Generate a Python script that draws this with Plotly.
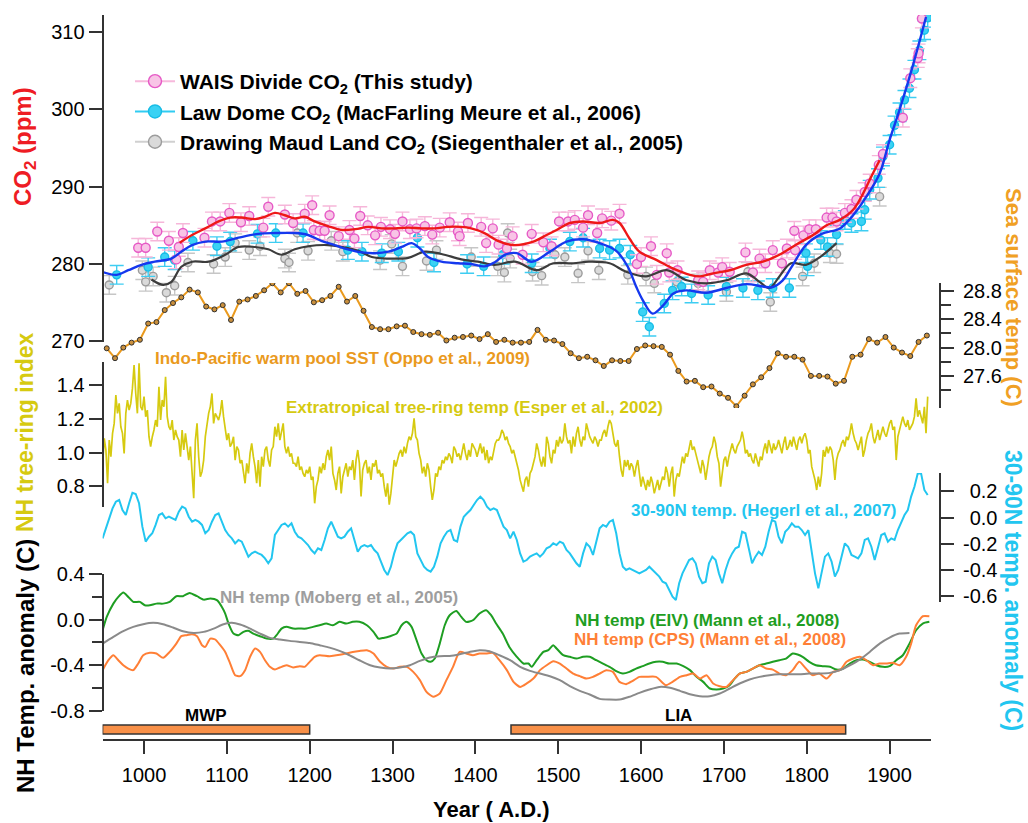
import plotly.graph_objects as go

W, H = 1028, 823
FONT = "Liberation Sans, Arial, sans-serif"

# ---------------- CO2 records (ppm) ----------------
CO2_ERR = 1.2

WAIS_YEAR = [993, 1002, 1016, 1030, 1039, 1042, 1047, 1073, 1082, 1092, 1103, 1117, 1127, 1144, 1150,
             1170, 1180, 1194, 1203, 1205, 1212, 1218, 1224, 1235, 1248, 1254, 1261, 1270, 1279, 1286,
             1297, 1303, 1312, 1321, 1329, 1339, 1348, 1357, 1369, 1379, 1381, 1391, 1407, 1413, 1421,
             1428, 1438, 1445, 1457, 1468, 1482, 1492, 1501, 1512, 1520, 1530, 1536, 1547, 1553, 1564,
             1574, 1595, 1600, 1612, 1619, 1631, 1634, 1644, 1669, 1675, 1683, 1693, 1698, 1707, 1726,
             1735, 1743, 1750, 1759, 1770, 1776, 1785, 1786, 1796, 1803, 1811, 1824, 1831, 1836, 1846,
             1854, 1860, 1870, 1876, 1887, 1892, 1916, 1925, 1934, 1935, 1939]
WAIS_CO2 = [282.1, 282.1, 284.2, 283.0, 280.6, 282.2, 284.0, 283.4, 285.5, 285.5, 286.6, 285.4, 286.2, 284.7, 287.4,
            286.4, 285.3, 286.5, 287.6, 284.4, 284.3, 284.3, 286.3, 283.6, 284.4, 283.3, 286.2, 285.0, 283.7, 284.8,
            284.5, 283.9, 285.5, 284.5, 284.6, 284.9, 283.8, 284.7, 285.4, 284.2, 283.6, 285.3, 284.8, 282.7, 284.6,
            282.5, 282.0, 283.6, 281.2, 283.9, 282.8, 282.3, 285.5, 285.5, 285.7, 284.7, 286.3, 284.0, 285.9, 285.6,
            286.5, 280.0, 280.9, 282.3, 278.6, 281.4, 278.9, 279.2, 277.9, 277.7, 279.2, 278.9, 279.6, 279.0, 281.5,
            278.9, 280.7, 280.1, 281.8, 280.1, 282.0, 284.3, 281.8, 283.7, 284.5, 284.5, 286.0, 286.0, 285.5, 286.6,
            287.1, 288.3, 289.3, 290.4, 292.8, 294.2, 298.9, 304.0, 306.6, 307.2, 311.7]

LAW_YEAR = [967, 1005, 1025, 1037, 1059, 1088, 1104, 1137, 1159, 1192, 1246, 1263, 1287, 1307, 1330,
            1350, 1390, 1410, 1433, 1468, 1490, 1514, 1530, 1550, 1562, 1574, 1587, 1602, 1610, 1628,
            1638, 1649, 1661, 1681, 1703, 1723, 1741, 1759, 1779, 1799, 1801, 1817, 1825, 1836, 1846,
            1854, 1866, 1870, 1876, 1886, 1892, 1900, 1906, 1912, 1918, 1924, 1930, 1936, 1942, 1946]
LAW_CO2 = [278.6, 279.6, 280.9, 280.5, 283.0, 282.3, 282.9, 283.9, 284.0, 284.0, 281.8, 281.6, 281.4, 281.6, 283.4,
           280.2, 280.0, 279.7, 281.2, 280.1, 282.0, 282.9, 283.4, 282.0, 281.8, 282.0, 281.2, 273.8, 271.9, 274.9,
           276.6, 277.1, 276.2, 276.0, 277.1, 276.9, 276.6, 276.9, 276.9, 281.4, 279.7, 283.1, 282.2, 283.8, 285.7,
           285.3, 285.5, 287.0, 289.6, 291.1, 293.9, 295.4, 297.9, 299.6, 301.2, 302.7, 305.1, 307.6, 310.2, 311.8]

DML_YEAR = [958, 998, 1002, 1011, 1027, 1037, 1053, 1084, 1098, 1110, 1127, 1140, 1170, 1175, 1185,
            1198, 1226, 1240, 1285, 1299, 1312, 1341, 1353, 1395, 1427, 1435, 1439, 1442, 1469, 1480,
            1496, 1508, 1524, 1536, 1549, 1584, 1606, 1616, 1643, 1669, 1703, 1729, 1756, 1795, 1809,
            1828, 1836, 1888]
DML_CO2 = [277.3, 279.2, 277.7, 278.4, 276.3, 277.2, 280.2, 280.0, 280.9, 282.7, 281.8, 282.3, 280.7, 280.2, 284.0,
           281.7, 283.0, 281.6, 280.5, 282.6, 279.7, 280.4, 281.8, 280.9, 279.7, 278.9, 284.0, 280.7, 279.0, 278.5,
           281.2, 280.9, 278.8, 281.7, 279.2, 278.6, 278.4, 277.5, 277.7, 277.5, 276.4, 279.0, 275.1, 278.4, 280.1,
           281.4, 281.3, 288.7]

# smoothed curves through each CO2 record
WAIS_FIT_YEAR = [1043, 1058, 1074, 1090, 1104, 1118, 1134, 1146, 1158, 1170, 1182, 1194, 1206, 1222, 1239,
                 1255, 1271, 1287, 1303, 1319, 1335, 1351, 1367, 1383, 1395, 1411, 1427, 1446, 1470, 1486,
                 1498, 1514, 1530, 1550, 1566, 1574, 1586, 1598, 1619, 1639, 1659, 1671, 1687, 1707, 1727,
                 1747, 1767, 1787, 1807, 1824, 1840, 1856, 1868, 1878, 1888]
WAIS_FIT_CO2 = [282.75, 283.75, 284.6, 285.5, 286.0, 286.0, 285.8, 286.1, 286.6, 286.3, 285.9, 286.1, 285.5, 284.9, 284.4,
                284.5, 284.8, 284.6, 284.6, 284.7, 284.6, 284.6, 284.8, 284.8, 284.6, 284.0, 283.0, 282.45, 282.9, 283.75,
                284.4, 285.3, 285.5, 285.3, 285.7, 285.3, 283.3, 281.6, 280.5, 279.4, 278.6, 278.4, 278.8, 279.2, 279.9,
                280.3, 281.2, 282.5, 283.7, 285.0, 285.7, 287.0, 289.1, 291.3, 293.4]

LAW_FIT_YEAR = [949, 967, 981, 997, 1013, 1033, 1045, 1058, 1074, 1094, 1114, 1138, 1158, 1182, 1198,
                1214, 1230, 1246, 1263, 1279, 1295, 1311, 1323, 1333, 1343, 1359, 1379, 1395, 1411, 1423,
                1436, 1450, 1468, 1490, 1510, 1530, 1550, 1570, 1584, 1594, 1602, 1614, 1627, 1639, 1654,
                1679, 1703, 1727, 1747, 1758, 1771, 1781, 1799, 1818, 1840, 1856, 1872, 1888, 1900, 1912,
                1928, 1944]
LAW_FIT_CO2 = [279.0, 278.6, 279.2, 279.9, 280.3, 280.7, 281.6, 282.45, 282.9, 282.9, 283.4, 283.9, 284.0, 284.0, 283.75,
               283.0, 282.45, 281.9, 281.5, 281.4, 281.6, 282.2, 282.7, 282.0, 280.9, 280.3, 280.1, 280.0, 279.7, 280.2,
               281.2, 281.4, 280.3, 281.6, 282.9, 283.2, 282.7, 281.7, 279.65, 277.1, 275.35, 273.6, 274.7, 276.2, 276.6,
               276.3, 276.9, 277.4, 277.1, 277.0, 277.9, 279.5, 282.45, 283.9, 284.6, 286.3, 288.7, 291.7, 296.0, 299.9,
               305.6, 311.9]

DML_FIT_YEAR = [1009, 1023, 1033, 1045, 1058, 1078, 1098, 1114, 1134, 1150, 1166, 1182, 1198, 1222, 1239,
                1259, 1275, 1295, 1319, 1339, 1359, 1383, 1403, 1423, 1448, 1474, 1494, 1518, 1537, 1562,
                1582, 1606, 1631, 1655, 1679, 1703, 1727, 1743, 1755, 1767, 1781, 1799, 1816, 1836]
DML_FIT_CO2 = [278.0, 277.3, 277.7, 279.65, 280.3, 280.3, 281.2, 282.2, 282.2, 281.9, 281.2, 281.9, 282.3, 282.45, 282.2,
               281.7, 280.9, 280.7, 280.8, 281.6, 281.3, 280.6, 280.3, 279.9, 280.3, 279.2, 280.1, 280.1, 280.3, 280.1,
               279.0, 278.4, 279.2, 277.9, 277.5, 277.9, 278.8, 277.7, 276.9, 278.4, 280.1, 279.9, 280.9, 282.7]

# ---------------- Indo-Pacific warm pool SST (C), decadal ----------------
SST_YEAR = list(range(955, 1955, 10))
SST = [27.99, 27.85, 28.00, 28.07, 28.11, 28.34, 28.36, 28.53, 28.63, 28.71,
       28.82, 28.78, 28.58, 28.54, 28.60, 28.39, 28.65, 28.68, 28.73, 28.81,
       28.91, 28.78, 28.91, 28.76, 28.80, 28.64, 28.67, 28.73, 28.86, 28.65,
       28.73, 28.52, 28.29, 28.26, 28.26, 28.30, 28.31, 28.22, 28.19, 28.18,
       28.21, 28.10, 28.14, 28.15, 28.17, 28.12, 28.19, 28.08, 28.11, 28.07,
       28.07, 28.08, 28.25, 28.11, 28.10, 28.05, 27.92, 27.85, 27.87, 27.82,
       27.74, 27.82, 27.81, 27.81, 27.98, 28.03, 28.02, 28.01, 27.90, 27.67,
       27.52, 27.53, 27.44, 27.45, 27.35, 27.29, 27.17, 27.32, 27.48, 27.58,
       27.71, 27.92, 27.87, 27.87, 27.83, 27.60, 27.60, 27.59, 27.49, 27.53,
       27.87, 27.90, 28.12, 28.07, 28.15, 28.00, 27.93, 27.88, 28.08, 28.17]

# ---------------- Extratropical tree-ring index, biennial samples ----------------
TREE_START_A, TREE_START_B, TREE_STEP = 950, 1446, 2
TREE_A = [0.926, 1.084, 1.015, 0.817, 1.074, 0.975, 1.114, 1.173, 1.342, 1.233, 1.292, 1.153, 1.114, 0.995, 1.233,
          1.312, 1.252, 1.292, 1.381, 1.520, 1.351, 1.233, 1.530, 1.272, 1.252, 1.332, 1.213, 1.252, 1.094, 1.035,
          1.094, 1.134, 1.193, 1.153, 1.391, 1.193, 1.312, 1.272, 1.450, 1.213, 1.153, 1.134, 1.193, 1.074, 1.134,
          1.094, 1.074, 0.975, 1.134, 1.015, 1.114, 1.015, 0.955, 1.035, 0.876, 0.728, 1.074, 1.173, 0.975, 0.856,
          0.886, 0.955, 1.094, 1.173, 1.233, 1.272, 1.351, 1.173, 1.233, 1.213, 1.193, 1.233, 1.312, 1.213, 1.134,
          1.074, 1.114, 1.035, 1.054, 1.094, 0.955, 1.035, 1.015, 0.936, 0.955, 0.876, 0.817, 0.936, 0.876, 0.995,
          1.054, 0.975, 0.916, 0.817, 0.955, 0.797, 0.975, 0.916, 1.015, 1.035, 0.955, 0.916, 1.015, 1.035, 1.153,
          1.094, 1.173, 1.074, 1.114, 1.173, 1.035, 0.995, 1.035, 0.975, 0.995, 0.936, 0.936, 0.916, 0.975, 0.896,
          0.916, 0.876, 0.856, 0.896, 0.876, 0.916, 0.837, 0.856, 0.698, 0.797, 0.837, 0.916, 0.876, 0.936, 0.896,
          0.975, 1.015, 0.955, 1.035, 0.876, 0.837, 0.777, 0.876, 0.916, 0.757, 0.856, 0.896, 0.936, 0.856, 0.916,
          0.896, 0.955, 0.837, 0.955, 1.015, 0.936, 0.738, 0.896, 0.936, 0.955, 0.876, 0.916, 0.837, 0.936, 0.916,
          0.955, 0.876, 0.896, 0.856, 0.876, 0.797, 0.738, 0.817, 0.690, 0.757, 0.856, 0.955, 0.916, 0.955, 0.995,
          1.015, 0.975, 1.035, 0.995, 1.054, 1.094, 1.074, 1.114, 1.203, 1.094, 1.074, 0.995, 0.955, 0.876, 0.916,
          0.856, 0.936, 0.896, 0.797, 0.718, 0.777, 0.876, 0.856, 0.916, 0.896, 0.955, 0.936, 0.975, 0.955, 0.995,
          0.975, 0.936, 1.035, 1.015, 0.975, 0.995, 0.955, 1.015, 1.054, 0.995, 0.955, 1.015, 0.975, 1.054, 1.035,
          1.015, 0.975, 1.015, 1.054, 0.995, 1.035, 0.955, 1.015, 0.936, 0.975, 0.955, 0.995, 1.054, 1.074, 1.074,
          1.094, 1.134, 1.114, 1.074, 1.094, 1.054, 1.035, 0.995]
TREE_B = [1.015, 0.975, 0.936, 0.896, 0.837, 0.797, 0.767, 0.837, 0.856, 0.797, 0.876, 0.896, 0.936, 0.975, 1.054,
          1.015, 0.955, 0.916, 0.975, 0.916, 1.094, 1.054, 0.975, 0.936, 1.015, 0.995, 1.074, 1.035, 1.094, 1.054,
          1.074, 1.173, 1.094, 1.054, 1.074, 0.995, 1.094, 1.035, 1.114, 1.153, 1.074, 1.035, 1.094, 1.074, 1.173,
          1.134, 1.094, 1.074, 1.054, 1.094, 1.074, 1.035, 1.074, 1.074, 1.114, 1.134, 1.094, 1.153, 1.193, 1.173,
          1.114, 1.054, 1.035, 1.074, 0.975, 0.896, 0.856, 0.955, 0.916, 0.955, 0.896, 0.936, 0.916, 0.856, 0.916,
          0.955, 0.876, 0.797, 0.856, 0.817, 0.777, 0.837, 0.797, 0.856, 0.817, 0.757, 0.797, 0.837, 0.777, 0.817,
          0.856, 0.837, 0.916, 0.876, 0.797, 0.876, 0.916, 0.738, 0.837, 0.876, 0.856, 0.916, 0.975, 0.936, 0.995,
          0.975, 1.035, 1.074, 1.015, 1.035, 0.995, 0.955, 0.916, 0.876, 0.955, 0.916, 0.837, 0.916, 0.975, 1.015,
          1.035, 1.094, 1.054, 0.975, 0.936, 0.797, 0.876, 0.955, 0.975, 0.916, 0.975, 1.015, 1.054, 1.015, 0.995,
          1.035, 1.054, 1.074, 1.124, 1.074, 0.995, 1.015, 0.975, 0.995, 0.955, 0.936, 0.995, 0.955, 0.916, 0.975,
          0.955, 1.015, 1.054, 0.995, 1.074, 1.035, 0.995, 1.054, 1.015, 1.035, 1.074, 1.035, 0.995, 1.054, 1.094,
          1.015, 1.035, 1.074, 1.035, 1.094, 1.054, 1.015, 1.074, 1.094, 1.054, 1.094, 1.114, 1.074, 0.995, 1.015,
          0.916, 0.876, 0.837, 0.777, 0.856, 0.797, 0.876, 1.015, 0.975, 1.035, 0.995, 1.035, 1.015, 0.955, 0.837,
          0.955, 0.995, 1.015, 1.054, 1.074, 1.035, 1.094, 1.074, 1.114, 1.173, 1.114, 1.074, 1.054, 1.015, 1.054,
          1.094, 0.975, 1.015, 1.074, 1.114, 1.134, 1.173, 1.094, 1.054, 1.094, 1.134, 1.074, 1.114, 1.153, 1.114,
          1.094, 1.134, 1.173, 1.193, 1.134, 1.153, 0.955, 1.094, 1.134, 1.173, 1.213, 1.173, 1.153, 1.193, 1.134,
          1.153, 1.173, 1.213, 1.322, 1.213, 1.252, 1.213, 1.173, 1.272, 1.114, 1.332]

# ---------------- 30-90N temperature anomaly (C), 4-year samples ----------------
HEG_START_A, HEG_START_B, HEG_STEP = 950, 1446, 4
HEG_A = [-0.160, -0.083, 0.006, 0.070, 0.121, 0.134, 0.057, 0.019, 0.109, 0.190, 0.180, 0.109, -0.070, -0.185, -0.147,
         -0.121, -0.057, 0.019, 0.032, -0.006, 0.006, -0.006, -0.019, 0.045, 0.083, 0.070, 0.006, -0.032, -0.019, -0.032,
         -0.057, -0.121, -0.096, -0.032, 0.019, 0.032, -0.032, -0.096, -0.134, -0.160, -0.198, -0.172, -0.185, -0.249, -0.300,
         -0.275, -0.262, -0.275, -0.287, -0.313, -0.351, -0.313, -0.134, -0.096, -0.057, -0.045, -0.070, -0.045, -0.109, -0.147,
         -0.160, -0.185, -0.211, -0.249, -0.275, -0.236, -0.249, -0.172, -0.083, -0.032, -0.096, -0.147, -0.160, -0.147, -0.109,
         -0.083, -0.172, -0.262, -0.224, -0.211, -0.224, -0.211, -0.249, -0.275, -0.338, -0.402, -0.441, -0.377, -0.275, -0.198,
         -0.172, -0.147, -0.121, -0.109, -0.134, -0.275, -0.326, -0.377, -0.402, -0.415, -0.377, -0.300, -0.198, -0.147, -0.109,
         -0.096, -0.172, -0.185, -0.070, 0.006, 0.032, 0.057, 0.096, 0.134, 0.160, 0.134, 0.083, 0.057, 0.070, 0.057,
         -0.006, -0.070, -0.096, -0.160]
HEG_B = [-0.109, -0.172, -0.275, -0.338, -0.326, -0.300, -0.287, -0.275, -0.300, -0.275, -0.236, -0.224, -0.198, -0.211, -0.185,
         -0.198, -0.249, -0.275, -0.313, -0.351, -0.377, -0.275, -0.198, -0.224, -0.287, -0.172, -0.083, -0.057, -0.070, -0.032,
         -0.019, -0.121, -0.275, -0.377, -0.402, -0.390, -0.402, -0.415, -0.428, -0.415, -0.402, -0.377, -0.402, -0.428, -0.453,
         -0.492, -0.504, -0.556, -0.607, -0.632, -0.504, -0.428, -0.377, -0.326, -0.313, -0.351, -0.453, -0.504, -0.492, -0.351,
         -0.300, -0.326, -0.428, -0.504, -0.402, -0.326, -0.275, -0.236, -0.224, -0.109, -0.121, -0.249, -0.351, -0.300, -0.262,
         -0.287, -0.224, -0.109, -0.019, -0.032, -0.147, -0.198, -0.109, -0.083, -0.045, -0.070, -0.070, -0.096, -0.134, -0.096,
         -0.275, -0.428, -0.543, -0.428, -0.300, -0.275, -0.338, -0.453, -0.402, -0.300, -0.198, -0.224, -0.287, -0.300, -0.313,
         -0.275, -0.172, -0.160, -0.224, -0.326, -0.224, -0.134, -0.121, -0.185, -0.160, -0.172, -0.096, -0.032, 0.019, 0.057,
         0.160, 0.236, 0.338, 0.338, 0.211, 0.172]

# ---------------- NH temperature reconstructions (C) ----------------
EIV_YEAR = [950, 955, 963, 969, 975, 981, 987, 995, 1001, 1007, 1015, 1023, 1031, 1039, 1047,
            1055, 1064, 1072, 1080, 1088, 1094, 1098, 1102, 1108, 1114, 1120, 1126, 1132, 1140, 1148,
            1156, 1160, 1166, 1172, 1180, 1188, 1196, 1204, 1212, 1220, 1228, 1236, 1244, 1252, 1260,
            1269, 1277, 1283, 1289, 1297, 1305, 1311, 1317, 1323, 1329, 1335, 1341, 1346, 1351, 1357,
            1363, 1369, 1377, 1383, 1389, 1397, 1405, 1413, 1419, 1425, 1433, 1441, 1450, 1458, 1464,
            1468, 1474, 1482, 1488, 1494, 1498, 1506, 1514, 1522, 1530, 1538, 1546, 1554, 1562, 1570,
            1578, 1586, 1594, 1602, 1610, 1618, 1626, 1634, 1643, 1651, 1659, 1667, 1675, 1683, 1691,
            1699, 1707, 1713, 1719, 1727, 1735, 1743, 1751, 1759, 1767, 1775, 1783, 1789, 1795, 1803,
            1811, 1819, 1828, 1836, 1844, 1852, 1860, 1868, 1876, 1884, 1892, 1900, 1908, 1916, 1924,
            1932, 1940, 1948]
EIV = [-0.094, 0.023, 0.140, 0.199, 0.237, 0.199, 0.155, 0.155, 0.126, 0.126, 0.140, 0.140, 0.155, 0.205, 0.205,
       0.234, 0.205, 0.175, 0.184, 0.170, 0.111, 0.053, -0.035, -0.123, -0.137, -0.108, -0.099, -0.123, -0.146, -0.167,
       -0.167, -0.137, -0.079, -0.064, -0.079, -0.079, -0.079, -0.064, -0.050, -0.035, -0.050, -0.020, -0.035, -0.020, -0.020,
       -0.050, -0.108, -0.167, -0.161, -0.146, -0.123, -0.050, -0.020, -0.064, -0.181, -0.298, -0.357, -0.371, -0.342, -0.211,
       -0.050, 0.038, 0.076, 0.023, -0.020, -0.006, 0.053, 0.082, 0.038, -0.035, -0.123, -0.240, -0.327, -0.386, -0.386,
       -0.415, -0.357, -0.284, -0.269, -0.225, -0.254, -0.313, -0.327, -0.342, -0.327, -0.327, -0.357, -0.386, -0.415, -0.453,
       -0.474, -0.459, -0.430, -0.409, -0.386, -0.371, -0.371, -0.386, -0.386, -0.409, -0.444, -0.503, -0.547, -0.605, -0.614,
       -0.605, -0.576, -0.518, -0.474, -0.459, -0.430, -0.401, -0.386, -0.371, -0.357, -0.342, -0.298, -0.307, -0.327, -0.371,
       -0.401, -0.409, -0.415, -0.439, -0.430, -0.386, -0.357, -0.351, -0.371, -0.401, -0.415, -0.409, -0.357, -0.313, -0.211,
       -0.094, -0.035, -0.020]

CPS_YEAR = [950, 957, 963, 969, 975, 981, 987, 993, 999, 1007, 1015, 1023, 1031, 1039, 1045,
            1051, 1058, 1064, 1070, 1074, 1080, 1086, 1092, 1098, 1104, 1110, 1116, 1122, 1128, 1134,
            1140, 1146, 1152, 1158, 1164, 1172, 1180, 1188, 1194, 1200, 1206, 1212, 1224, 1232, 1244,
            1252, 1260, 1269, 1277, 1285, 1293, 1301, 1309, 1317, 1325, 1333, 1341, 1349, 1357, 1365,
            1373, 1381, 1389, 1397, 1405, 1413, 1421, 1429, 1438, 1446, 1454, 1462, 1470, 1478, 1486,
            1494, 1502, 1510, 1518, 1526, 1534, 1542, 1550, 1558, 1566, 1574, 1582, 1590, 1598, 1606,
            1618, 1630, 1638, 1647, 1655, 1663, 1671, 1679, 1687, 1695, 1703, 1711, 1719, 1727, 1735,
            1743, 1751, 1759, 1767, 1775, 1783, 1791, 1799, 1807, 1815, 1824, 1832, 1840, 1848, 1856,
            1864, 1872, 1880, 1888, 1896, 1904, 1912, 1920, 1926, 1932, 1940, 1948]
CPS = [-0.444, -0.357, -0.313, -0.357, -0.401, -0.430, -0.444, -0.386, -0.313, -0.292, -0.298, -0.336, -0.284, -0.211, -0.146,
       -0.137, -0.129, -0.146, -0.225, -0.240, -0.167, -0.175, -0.225, -0.284, -0.386, -0.488, -0.497, -0.444, -0.327, -0.254,
       -0.284, -0.357, -0.415, -0.439, -0.421, -0.401, -0.421, -0.409, -0.415, -0.371, -0.327, -0.313, -0.322, -0.313, -0.298,
       -0.284, -0.275, -0.269, -0.298, -0.371, -0.415, -0.430, -0.415, -0.415, -0.459, -0.532, -0.635, -0.678, -0.649, -0.532,
       -0.415, -0.284, -0.298, -0.313, -0.298, -0.298, -0.292, -0.357, -0.444, -0.547, -0.591, -0.561, -0.518, -0.444, -0.401,
       -0.365, -0.386, -0.430, -0.474, -0.497, -0.518, -0.503, -0.474, -0.444, -0.459, -0.547, -0.567, -0.538, -0.503, -0.503,
       -0.503, -0.576, -0.547, -0.503, -0.488, -0.474, -0.518, -0.488, -0.561, -0.585, -0.591, -0.532, -0.474, -0.459, -0.430,
       -0.401, -0.430, -0.439, -0.474, -0.488, -0.444, -0.371, -0.430, -0.488, -0.474, -0.518, -0.459, -0.444, -0.371, -0.342,
       -0.327, -0.357, -0.401, -0.386, -0.386, -0.380, -0.401, -0.327, -0.211, -0.050, 0.029, 0.029]

MOBERG_YEAR = [950, 963, 975, 987, 999, 1011, 1023, 1035, 1047, 1060, 1072, 1084, 1096, 1106, 1116,
               1128, 1140, 1152, 1164, 1176, 1188, 1200, 1212, 1224, 1236, 1248, 1260, 1273, 1285, 1297,
               1309, 1321, 1333, 1345, 1357, 1369, 1381, 1393, 1405, 1417, 1429, 1442, 1454, 1466, 1478,
               1490, 1502, 1514, 1526, 1538, 1550, 1562, 1574, 1586, 1598, 1610, 1622, 1635, 1647, 1659,
               1671, 1683, 1695, 1707, 1719, 1731, 1743, 1755, 1767, 1779, 1791, 1803, 1815, 1828, 1840,
               1852, 1864, 1876, 1888, 1900, 1912, 1924]
MOBERG = [-0.211, -0.152, -0.102, -0.064, -0.041, -0.029, -0.041, -0.070, -0.102, -0.117, -0.108, -0.079, -0.041, -0.029, -0.044,
          -0.079, -0.123, -0.161, -0.175, -0.187, -0.196, -0.205, -0.225, -0.246, -0.275, -0.313, -0.357, -0.401, -0.421, -0.430,
          -0.421, -0.401, -0.363, -0.333, -0.322, -0.319, -0.304, -0.284, -0.269, -0.278, -0.313, -0.357, -0.415, -0.450, -0.474,
          -0.497, -0.532, -0.585, -0.626, -0.658, -0.696, -0.702, -0.702, -0.678, -0.643, -0.614, -0.591, -0.599, -0.626, -0.655,
          -0.673, -0.673, -0.649, -0.605, -0.561, -0.526, -0.503, -0.488, -0.480, -0.480, -0.480, -0.474, -0.474, -0.468, -0.444,
          -0.401, -0.351, -0.284, -0.211, -0.158, -0.123, -0.117]

# climate periods: Medieval Warm Period and Little Ice Age
PERIOD_NAMES = ["MWP", "LIA"]
PERIOD_START = [950, 1443]
PERIOD_END = [1200, 1847]

# ---------------- colours ----------------
C_PINK_EDGE, C_PINK_FILL, C_PINK_BAR = "#E659C6", "#F8C4E6", "#F6B6D9"
C_CYAN = "#22C6F0"
C_GREY_EDGE, C_GREY_FILL, C_GREY_BAR = "#9C9C9C", "#DADADA", "#C6C6C6"
C_RED, C_BLUE, C_DARK = "#EE1818", "#1538EE", "#3C3C3C"
C_SST, C_TREE = "#EA9A1E", "#D6CA10"
C_EIV, C_CPS, C_MOB = "#1E9E22", "#FF7F36", "#8A8A8A"
C_AXIS = "#333333"


def py(px):
    """Pixel row (from the top) to paper fraction."""
    return 1 - px / H


def px_(px):
    return px / W


fig = go.Figure()

# CO2 measurements with uncertainty bars
for yrs, vals, edge, fill, bar, size in [
    (DML_YEAR, DML_CO2, C_GREY_EDGE, C_GREY_FILL, C_GREY_BAR, 8),
    (LAW_YEAR, LAW_CO2, "#18BDE6", "#3AD2F4", "#3ECDF2", 8),
    (WAIS_YEAR, WAIS_CO2, C_PINK_EDGE, C_PINK_FILL, C_PINK_BAR, 9),
]:
    fig.add_trace(go.Scatter(
        x=yrs, y=vals, mode="markers", yaxis="y", showlegend=False, hoverinfo="skip",
        marker=dict(size=size, color=fill, line=dict(color=edge, width=1.4)),
        error_y=dict(type="constant", value=CO2_ERR, color=bar, thickness=1.4, width=7),
    ))

for yrs, vals, col, wd in [
    (DML_FIT_YEAR, DML_FIT_CO2, C_DARK, 2.2),
    (LAW_FIT_YEAR, LAW_FIT_CO2, C_BLUE, 2.4),
    (WAIS_FIT_YEAR, WAIS_FIT_CO2, C_RED, 2.4),
]:
    fig.add_trace(go.Scatter(x=yrs, y=vals, mode="lines", yaxis="y", showlegend=False,
                             hoverinfo="skip", line=dict(color=col, width=wd, shape="spline")))

# legend entries for the three ice-core records
for name, line_col, fill, edge in [
    ("WAIS Divide CO<sub>2</sub> (This study)", "#F7B9DC", C_PINK_FILL, C_PINK_EDGE),
    ("Law Dome CO<sub>2</sub> (MacFarling Meure et al., 2006)", "#30CCF2", "#3AD2F4", "#18BDE6"),
    ("Drawing Maud Land CO<sub>2</sub> (Siegenthaler et al., 2005)", "#D0D0D0", C_GREY_FILL, C_GREY_EDGE),
]:
    fig.add_trace(go.Scatter(x=[None], y=[None], mode="lines+markers", name=name, yaxis="y",
                             line=dict(color=line_col, width=2),
                             marker=dict(size=13, color=fill, line=dict(color=edge, width=1.4))))

# SST
fig.add_trace(go.Scatter(x=SST_YEAR, y=SST, mode="lines+markers", yaxis="y4", showlegend=False,
                         hoverinfo="skip", line=dict(color=C_SST, width=2),
                         marker=dict(size=5, color="#C98F3C", line=dict(color="#303030", width=1))))

# tree-ring index
tree_year = ([TREE_START_A + TREE_STEP * i for i in range(len(TREE_A))]
             + [TREE_START_B + TREE_STEP * i for i in range(len(TREE_B))])
fig.add_trace(go.Scatter(x=tree_year, y=TREE_A + TREE_B, mode="lines", yaxis="y2", showlegend=False,
                         hoverinfo="skip", line=dict(color=C_TREE, width=1.7)))

# 30-90N temperature
heg_year = ([HEG_START_A + HEG_STEP * i for i in range(len(HEG_A))]
            + [HEG_START_B + HEG_STEP * i for i in range(len(HEG_B))])
fig.add_trace(go.Scatter(x=heg_year, y=HEG_A + HEG_B, mode="lines", yaxis="y5", showlegend=False,
                         hoverinfo="skip", line=dict(color=C_CYAN, width=2)))

# NH temperature reconstructions
for yrs, vals, col in [(EIV_YEAR, EIV, C_EIV), (CPS_YEAR, CPS, C_CPS), (MOBERG_YEAR, MOBERG, C_MOB)]:
    fig.add_trace(go.Scatter(x=yrs, y=vals, mode="lines", yaxis="y3", showlegend=False,
                             hoverinfo="skip", line=dict(color=col, width=2, shape="spline", smoothing=0.6)))

tick_font = dict(family=FONT, size=20, color="black")
axis_common = dict(showgrid=False, zeroline=False, showline=True, linecolor=C_AXIS, linewidth=2,
                   ticks="outside", ticklen=13, tickwidth=2, tickcolor=C_AXIS, tickfont=tick_font,
                   anchor="free", automargin=False, fixedrange=True)


def fmt(vals, pad=False):
    """One-decimal labels with an ASCII hyphen; optionally padded so they right-align."""
    out = []
    for v in vals:
        s = f"{v:.1f}"
        if pad and not s.startswith("-"):
            s = "\u2004" + s
        out.append(s)
    return out


X0, X1 = 102.6, 931.0
fig.update_layout(
    width=W, height=H, margin=dict(l=0, r=0, t=0, b=0),
    paper_bgcolor="white", plot_bgcolor="rgba(0,0,0,0)",
    xaxis=dict(domain=[px_(X0), px_(X1)], range=[950, 1950], position=py(740),
               tickvals=list(range(1000, 2000, 100)), ticklabelstandoff=4, **axis_common),
    yaxis=dict(domain=[py(342), py(15)], range=[269.93, 312.16], position=px_(X0), side="left",
               tickvals=[270, 280, 290, 300, 310], **axis_common),
    yaxis2=dict(domain=[py(507), py(361.5)], range=[0.676, 1.541], position=px_(X0), side="left",
                tickvals=[0.8, 1.0, 1.2, 1.4], ticktext=fmt([0.8, 1.0, 1.2, 1.4]), **axis_common),
    yaxis3=dict(domain=[py(710.7), py(574)], range=[-0.8, 0.4], position=px_(X0), side="left",
                tickvals=[-0.8, -0.4, 0.0, 0.4], ticktext=fmt([-0.8, -0.4, 0.0, 0.4]),
                minor=dict(tickvals=[-0.6, -0.2, 0.2], ticks="outside", ticklen=10, tickwidth=2,
                           tickcolor=C_AXIS, showgrid=False),
                **axis_common),
    yaxis4=dict(domain=[py(408), py(283)], range=[27.146, 28.913], position=px_(940), side="right",
                tickvals=[27.6, 28.0, 28.4, 28.8], ticktext=fmt([27.6, 28.0, 28.4, 28.8]),
                minor=dict(tickvals=[27.4, 27.8, 28.2, 28.6], ticks="outside", ticklen=10, tickwidth=2,
                           tickcolor=C_AXIS, showgrid=False),
                ticklabelstandoff=5, **axis_common),
    yaxis5=dict(domain=[py(602), py(473)], range=[-0.6475, 0.341], position=px_(940), side="right",
                tickvals=[-0.6, -0.4, -0.2, 0.0, 0.2], ticktext=fmt([-0.6, -0.4, -0.2, 0.0, 0.2], pad=True),
                ticklabelstandoff=5, **axis_common),
    legend=dict(x=px_(130), y=py(61), xanchor="left", yanchor="top", bgcolor="rgba(0,0,0,0)",
                font=dict(family=FONT, size=21, color="black", weight="bold"),
                itemwidth=40, traceorder="normal"),
    showlegend=True,
)

ann = []


def label(text, x, y, color, size=17, angle=0, xanchor="center"):
    ann.append(dict(text=text, x=px_(x), y=py(y), xref="paper", yref="paper", showarrow=False,
                    xanchor=xanchor, yanchor="middle", textangle=angle,
                    font=dict(family=FONT, size=size, color=color, weight="bold")))


# axis titles
label("CO<sub>2</sub> (ppm)", 25, 147, "#EE1C24", size=24, angle=-90)
label("NH tree-ring index", 25, 432, C_TREE, size=23, angle=-90)
label("NH Temp. anomaly (C)", 25, 666, "black", size=24, angle=-90)
label("Sea surface temp (C)", 1014, 297, "#F0A024", size=22, angle=90)
label("30-90N temp. anomaly (C)", 1013, 590, C_CYAN, size=23, angle=90)
label("Year ( A.D.)", 491, 809, "black", size=22)

# series labels
label("Indo-Pacific warm pool SST (Oppo et al., 2009)", 342, 358, C_SST)
label("Extratropical tree-ring temp (Esper et al., 2002)", 474, 407, C_TREE)
label("30-90N temp. (Hegerl et al., 2007)", 764, 510, C_CYAN)
label("NH temp (Moberg et al., 2005)", 339, 597, "#9E9E9E")
label("NH temp (EIV) (Mann et al., 2008)", 707, 620, C_EIV)
label("NH temp (CPS) (Mann et al., 2008)", 710, 639, C_CPS)

# climate-period bars
shapes = []
for name, x0, x1 in zip(PERIOD_NAMES, PERIOD_START, PERIOD_END):
    shapes.append(dict(type="rect", xref="x", yref="paper", x0=x0, x1=x1, y0=py(734), y1=py(725),
                       fillcolor="#F89048", line=dict(color=C_AXIS, width=1.5), layer="above"))
    ann.append(dict(text=name, x=(x0 + x1) / 2, y=py(715), xref="x", yref="paper", showarrow=False,
                    xanchor="center", yanchor="middle",
                    font=dict(family=FONT, size=17, color="black", weight="bold")))

fig.update_layout(annotations=ann, shapes=shapes)
fig.write_html("out.html", config={"displayModeBar": False})
